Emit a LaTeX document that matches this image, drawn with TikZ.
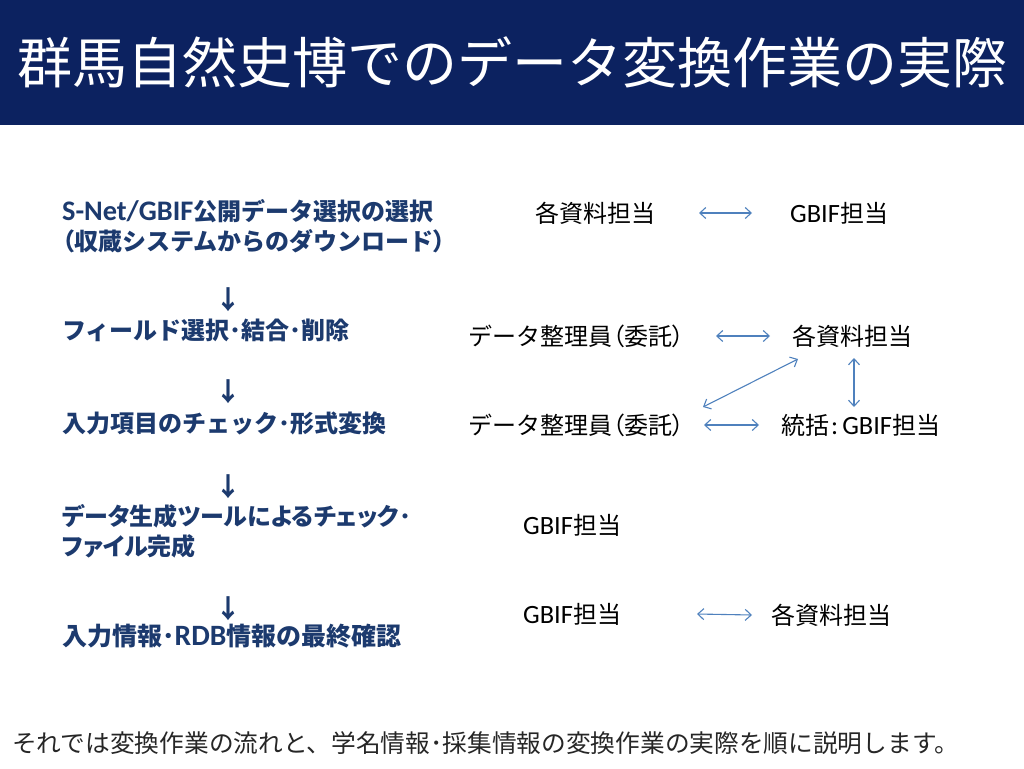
\documentclass[tikz,border=0pt]{standalone}
\usepackage{fontspec}
\setmainfont{Noto Sans CJK JP}
\newfontfamily\pj{Noto Sans CJK JP}[RawFeature=+palt]
\newfontfamily\lat{Carlito}[Scale=1.1]
\newfontfamily\latb{Carlito}[Scale=1.18]
\usetikzlibrary{arrows.meta}
\definecolor{navy}{HTML}{0C2260}
\definecolor{ltext}{HTML}{1C3A6E}
\definecolor{arr}{HTML}{4F81BD}
\definecolor{foot}{HTML}{262626}
\tikzset{
  steptxt/.style={anchor=west, inner sep=0pt, font=\fontsize{24}{30}\selectfont\bfseries, text=ltext, align=left},
  role/.style={anchor=west, inner sep=0pt, font=\fontsize{24}{30}\selectfont},
  dn/.style={inner sep=0pt, font=\fontsize{26}{26}\selectfont\bfseries, text=ltext},
  link/.style={draw=arr, line width=1.1pt, {Straight Barb[length=6pt,width=11pt]}-{Straight Barb[length=6pt,width=11pt]}},
}
\begin{document}
\begin{tikzpicture}[x=1pt,y=-1pt]
\useasboundingbox (0,0) rectangle (1024,768);
\fill[navy] (0,0) rectangle (1024,125);
\node[inner sep=0pt, text=white, font=\fontsize{55}{60}\selectfont] (title) at (512,62) {群馬自然史博でのデータ変換作業の実際};

% left column
\node[steptxt] (s1) at (62,226) {{\latb S-Net/GBIF}公開データ選択の選択\\{\pj （}収蔵システムからのダウンロード{\pj ）}};
\node[dn] (d1) at (228,300) {↓};
\node[steptxt] (s2) at (62,330) {フィールド選択･結合･削除};
\node[dn] (d2) at (228,392) {↓};
\node[steptxt] (s3) at (62,423) {入力項目のチェック･形式変換};
\node[dn] (d3) at (228,487) {↓};
\node[steptxt, font=\pj\fontsize{24}{30}\selectfont\bfseries] (s4) at (62,531) {データ生成ツールによるチェック･\\ファイル完成};
\node[dn] (d4) at (228,609) {↓};
\node[steptxt, font=\fontsize{25}{30}\selectfont\bfseries] (s5) at (62,636) {入力情報･{\latb RDB}情報の最終確認};

% right side
\node[role] (r1a) at (535,213) {各資料担当};
\node[role] (r1b) at (790,213) {{\lat GBIF}担当};
\node[role] (r2a) at (468,336) {データ整理員{\pj （}委託{\pj ）}};
\node[role] (r2b) at (792,336) {各資料担当};
\node[role] (r3a) at (468,425) {データ整理員{\pj （}委託{\pj ）}};
\node[role] (r3b) at (781,425) {統括{\lat\kern2pt:\kern4pt GBIF}担当};
\node[role] (r4a) at (523,525) {{\lat GBIF}担当};
\node[role] (r5a) at (523,614) {{\lat GBIF}担当};
\node[role] (r5b) at (771,615) {各資料担当};

\draw[link] ([xshift=164pt]r1a.west) -- ([xshift=-38pt]r1b.west);
\draw[link] ([xshift=248pt]r2a.west) -- ([xshift=-22pt]r2b.west);
\draw[link] ([xshift=236pt]r3a.west) -- ([xshift=-22pt]r3b.west);
\draw[link] ([xshift=235pt,yshift=18pt]r3a.west) -- ([xshift=6pt,yshift=-23pt]r2b.west);
\draw[link] ([xshift=62pt,yshift=-22pt]r2b.west) -- ([xshift=73pt,yshift=18pt]r3b.west);
\draw[link] ([xshift=174pt]r5a.west) -- ([xshift=-19pt]r5b.west);

\node[anchor=west, inner sep=0pt, text=foot, font=\fontsize{24.7}{30}\selectfont] (foot) at (12,743) {それでは変換作業の流れと、学名情報･採集情報の変換作業の実際を順に説明します。};
\end{tikzpicture}
\end{document}
